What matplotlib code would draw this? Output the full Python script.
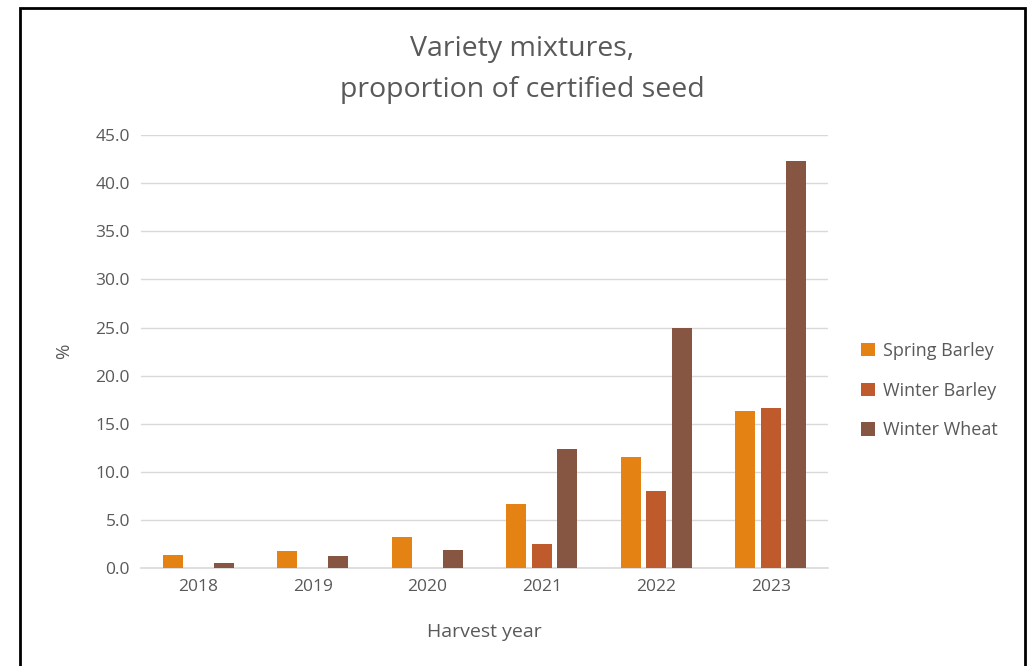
import matplotlib.pyplot as plt
import numpy as np
from matplotlib.patches import Rectangle

years = ["2018", "2019", "2020", "2021", "2022", "2023"]
series_names = ["Spring Barley", "Winter Barley", "Winter Wheat"]
spring_barley = [1.35, 1.8, 3.2, 6.7, 11.5, 16.3]
winter_barley = [0.0, 0.0, 0.0, 2.5, 8.0, 16.6]
winter_wheat = [0.5, 1.3, 1.9, 12.4, 24.9, 42.3]
colors = ["#E48313", "#BE5A2C", "#875642"]
yticks = np.arange(0, 45.1, 5)

plt.rcParams["font.family"] = ["Open Sans", "DejaVu Sans"]
TXT = "#595959"

fig = plt.figure(figsize=(10.3, 6.66), dpi=100)
ax = fig.add_axes([0.1369, 0.1471, 0.667, 0.650])

x = np.arange(len(years))
width = 0.175
offset = 0.222
for i, (vals, name) in enumerate(zip([spring_barley, winter_barley, winter_wheat], series_names)):
    ax.bar(x + (i - 1) * offset, vals, width, color=colors[i], label=name, zorder=3)

ax.set_xlim(-0.5, len(years) - 0.5)
ax.set_ylim(0, 45)
ax.set_yticks(yticks)
ax.set_yticklabels([f"{v:.1f}" for v in yticks], color=TXT, fontsize=12.5)
ax.set_xticks(x)
ax.set_xticklabels(years, color=TXT, fontsize=12.5)
ax.tick_params(length=0, pad=8)
ax.grid(True, axis="y", color="#D9D9D9", linewidth=1, zorder=0)
for s in ["top", "right", "left"]:
    ax.spines[s].set_visible(False)
ax.spines["bottom"].set_color("#D9D9D9")
ax.spines["bottom"].set_linewidth(1.2)

ax.set_xlabel("Harvest year", color=TXT, fontsize=14, labelpad=20)
ax.set_ylabel("%", color=TXT, fontsize=13.5, labelpad=16)

fig.text(0.507, 0.896, "Variety mixtures,\nproportion of certified seed", ha="center", va="center",
         fontsize=20.5, color=TXT, linespacing=1.6)

ax.legend(loc="center left", bbox_to_anchor=(1.025, 0.41), frameon=False, fontsize=13,
          labelcolor=TXT, handlelength=0.75, handleheight=0.75, handletextpad=0.45, labelspacing=1.2)

# chart frame
fig.patches.append(Rectangle((20 / 1030, -0.05), 1005 / 1030, 1.05 - 8 / 666, transform=fig.transFigure,
                             fill=False, edgecolor="black", linewidth=2, zorder=10))

fig.savefig("out.png", dpi=100)
